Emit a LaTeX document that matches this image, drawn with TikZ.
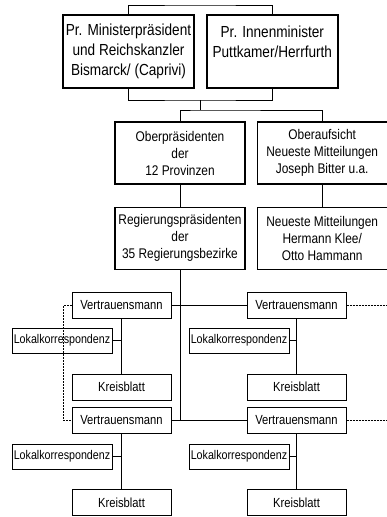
\documentclass[tikz,border=0pt]{standalone}
\usepackage{fontspec}
\setmainfont[FakeStretch=0.85]{Liberation Sans}
\usepackage{tikz}
\usetikzlibrary{positioning}
\tikzset{
    chief/.style={draw, line width=1.8pt, minimum width=131pt, minimum height=73pt, inner sep=0pt, align=center, font=\fontsize{16}{20}\selectfont},
    office/.style={draw, line width=1.2pt, minimum width=130pt, minimum height=62pt, inner sep=0pt, align=center, font=\fontsize{14}{17}\selectfont},
    agent/.style={draw, line width=1pt, minimum width=99pt, minimum height=26pt, inner sep=0pt, font=\fontsize{13.2}{15}\selectfont},
    corr/.style={agent, minimum width=100pt, minimum height=25pt, font=\fontsize{12.6}{15}\selectfont},
    link/.style={line width=0.8pt},
    loose/.style={line width=0.8pt, dash pattern=on 2pt off 1pt}
}

\begin{document}
\begin{tikzpicture}[x=1pt, y=-1pt, node distance=11pt]
    \useasboundingbox (0,0) rectangle (387,517);
    \node[chief] (pm) at (128.5,51.5) {Pr. Ministerpräsident\\und Reichskanzler\\Bismarck/ (Caprivi)};
    \node[chief, right=of pm] (im) {Pr. Innenminister\\Puttkamer/Herrfurth\\\mbox{}};

    \node[office] (ob) at (180,153) {Oberpräsidenten\\der\\12 Provinzen};
    \node[office, right=of ob] (oa) {Oberaufsicht\\Neueste Mitteilungen\\Joseph Bitter u.a.};
    \node[office, below=22pt of ob] (rp) {Regierungspräsidenten\\der\\35 Regierungsbezirke};
    \node[office, below=22pt of oa] (nm) {Neueste Mitteilungen\\Hermann Klee/\\Otto Hammann};

    \node[agent] (v1) at (121.5,305) {Vertrauensmann};
    \node[agent] (v2) at (296.5,305) {Vertrauensmann};
    \node[corr] (l1) at (62,340.5) {Lokalkorrespondenz};
    \node[corr] (l2) at (239,340.5) {Lokalkorrespondenz};
    \node[agent] (k1) at (121.5,387) {Kreisblatt};
    \node[agent] (k2) at (296.5,387) {Kreisblatt};

    \node[agent] (v3) at (121.5,420.5) {Vertrauensmann};
    \node[agent] (v4) at (296.5,420.5) {Vertrauensmann};
    \node[corr] (l3) at (62,456.5) {Lokalkorrespondenz};
    \node[corr] (l4) at (239,456.5) {Lokalkorrespondenz};
    \node[agent] (k3) at (121.5,502.5) {Kreisblatt};
    \node[agent] (k4) at (296.5,502.5) {Kreisblatt};

    % Verbindungen oben
    \coordinate (top) at (200,5);
    \coordinate (mid) at (200,100);
    \coordinate (fork) at (200,110);
    \draw[link] (pm.north) |- (top) -| (im.north);
    \draw[link] (pm.south) |- (mid) -| (im.south);
    \draw[link] (mid) -- (fork);
    \draw[link] (ob.north) |- (fork) -| (oa.north);
    \draw[link] (ob) -- (rp);
    \draw[link] (oa) -- (nm);

    % Vertrauensmaenner
    \draw[link] (rp.south) -- (rp.south |- v3.east);
    \draw[link] (v1) -- (v2);
    \draw[link] (v3) -- (v4);
    \draw[link] (v1) -- (k1);
    \draw[link] (v2) -- (k2);
    \draw[link] (v3) -- (k3);
    \draw[link] (v4) -- (k4);
    \draw[link] (l1.east) -- (l1.east -| v1.south);
    \draw[link] (l2.east) -- (l2.east -| v2.south);
    \draw[link] (l3.east) -- (l3.east -| v3.south);
    \draw[link] (l4.east) -- (l4.east -| v4.south);

    % weitere Bezirke
    \coordinate (e1) at (387,305);
    \coordinate (e2) at (387,420.5);
    \draw[loose] (v2) -- (e1);
    \draw[loose] (v4) -- (e2);
    \draw[loose] (v1.west) -- ++(-8,0) |- (v3.west);
\end{tikzpicture}
\end{document}
